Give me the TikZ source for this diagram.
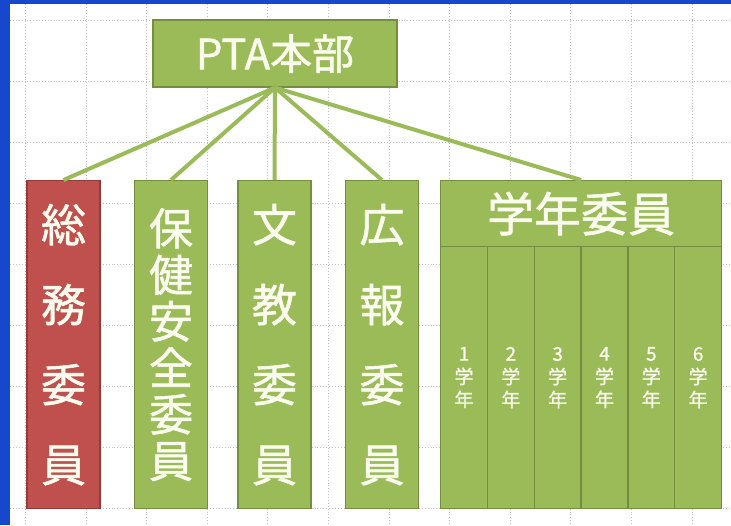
\documentclass[tikz,border=0pt]{standalone}
\usepackage{fontspec}
\newfontfamily\cjk[FakeBold=1.2]{Noto Sans CJK JP}
\usetikzlibrary{positioning}
\definecolor{mygreen}{RGB}{155,187,89}
\definecolor{mygreenline}{RGB}{116,142,62}
\definecolor{myred}{RGB}{192,80,77}
\definecolor{myredline}{RGB}{148,58,55}
\definecolor{myblue}{RGB}{22,72,205}
\definecolor{mytext}{RGB}{250,252,238}
\tikzset{
		linkStyle/.style = 	{line width = 4pt, color=mygreen},
		gridStyle/.style = 	{dotted, line width = 0.9pt, color=gray!50},
		unit/.style = 		{draw=mygreenline, fill=mygreen, line width=1.2pt, text=mytext, inner sep=0pt, font=\cjk, align=center},
		tallUnit/.style=	{unit, minimum width=73, minimum height=328, anchor=north},
		redUnit/.style=		{tallUnit, fill=myred, draw=myredline},
		wideText/.style=	{font=\cjk\fontsize{45}{80}\selectfont},
		tightText/.style=	{font=\cjk\fontsize{44}{46.5}\selectfont},
		gradeUnit/.style=	{unit, minimum width=46.83, minimum height=262, anchor=north west, font=\cjk\fontsize{19}{23}\selectfont}
}

\begin{document}
\begin{tikzpicture}[x=1pt,y=-1pt]
  % page and border
  \fill[white] (0,0) rectangle (731,525);
  \useasboundingbox (0,0) rectangle (731,525);
  \fill[myblue] (0,0) rectangle (10,525);
  \fill[myblue] (0,0) rectangle (731,4);

  % grid of the slide
  \foreach \x in {0,...,11}
    \draw[gridStyle] ({25.5+60.6*\x},4) -- ({25.5+60.6*\x},525);
  \foreach \y in {0,...,8}
    \draw[gridStyle] (10,{20+61*\y}) -- (731,{20+61*\y});

  % head office
  \node[unit, minimum width=244, minimum height=67, font=\cjk\fontsize{42}{46}\selectfont] (hq) at (275,53.5) {PTA本部};

  % committees
  \node[redUnit, wideText]  (soumu)  at (63.5,180) {総\\務\\委\\員};
  \node[tallUnit, tightText] (hoken) at (171,180)  {保\\健\\安\\全\\委\\員};
  \node[tallUnit, wideText] (bunkyo) at (274.5,180) {文\\教\\委\\員};
  \node[tallUnit, wideText] (kouhou) at (382,180)  {広\\報\\委\\員};

  % grade committee with its six grades
  \node[unit, minimum width=281, minimum height=66, anchor=north west, font=\cjk\fontsize{47}{50}\selectfont] (gakunen) at (440,180) {学年委員};
  \foreach \i in {1,...,6}
    \node[gradeUnit] (g\i) at ({440+46.83*(\i-1)},246) {\i\\学\\年};

  % links from head office
  \foreach \n in {soumu,hoken,bunkyo,kouhou,gakunen}
    \draw[linkStyle] (hq.south) -- (\n.north);

\end{tikzpicture}
\end{document}
